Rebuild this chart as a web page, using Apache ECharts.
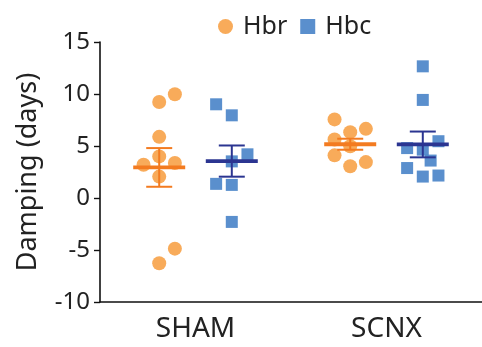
<!DOCTYPE html>
<html>
<head>
<meta charset="utf-8">
<script src="https://cdn.jsdelivr.net/npm/echarts@6/dist/echarts.min.js"></script>
<style>
  html, body { margin: 0; padding: 0; background: #fff; }
  #chart { width: 482px; height: 347px; }
</style>
</head>
<body>
<div id="chart"></div>
<script>
// groups on the x axis
const groups = ['SHAM', 'SCNX'];
const yTicks = [-10, -5, 0, 5, 10, 15];

// Hbr (orange circles): values per group, plus jitter column (-1 left, 0 centre, 1 right)
const hbrSham = [9.98, 9.23, 5.88, 4.0, 3.2, 3.36, 2.06, -4.87, -6.27];
const hbrShamCol = [1, 0, 0, 0, -1, 1, 0, 1, 0];
const hbrScnx = [7.56, 6.33, 6.65, 5.62, 4.97, 4.1, 3.45, 3.05];
const hbrScnxCol = [-1, 0, 1, -1, 0, -1, 1, 0];

// Hbc (blue squares)
const hbcSham = [9.01, 7.95, 4.2, 3.52, 1.36, 1.26, -2.3];
const hbcShamCol = [-1, 0, 1, 0, -1, 0, 0];
const hbcScnx = [12.66, 9.43, 5.46, 4.8, 4.65, 3.6, 2.88, 2.06, 2.16];
const hbcScnxCol = [0, 0, 1, -1, 0, 0.5, -1, 0, 1];

// mean and SEM, per group
const hbrMean = [2.94, 5.17];
const hbrSem = [1.86, 0.53];
const hbcMean = [3.55, 5.15];
const hbcSem = [1.5, 1.24];

const ORANGE = '#F7A44C';
const ORANGE_DARK = '#F37B20';
const BLUE = '#4C86C9';
const NAVY = '#2B3591';
const FONT = '"Noto Sans", "Open Sans", sans-serif';

const shift = 0.19;   // offset of each series from the group centre
const step = 0.082;   // jitter column width

function toPoints(vals, cols, gi, side) {
    return vals.map(function (v, i) {
        return [gi + side * shift + cols[i] * step, v];
    });
}

function summary(means, sems, side) {
    return means.map(function (m, gi) {
        return [gi + side * shift, m, sems[gi]];
    });
}

// mean bar + SEM whiskers
function meanRender(color) {
    return function (params, api) {
        const x = api.value(0), m = api.value(1), s = api.value(2);
        const c = api.coord([x, m]);
        const top = api.coord([x, m + s]);
        const bot = api.coord([x, m - s]);
        const style = { stroke: color, lineWidth: 2 };
        return {
            type: 'group',
            children: [
                { type: 'line', shape: { x1: c[0], y1: top[1], x2: c[0], y2: bot[1] }, style: style },
                { type: 'line', shape: { x1: c[0] - 13, y1: top[1], x2: c[0] + 13, y2: top[1] }, style: style },
                { type: 'line', shape: { x1: c[0] - 13, y1: bot[1], x2: c[0] + 13, y2: bot[1] }, style: style },
                { type: 'line', shape: { x1: c[0] - 26, y1: c[1], x2: c[0] + 26, y2: c[1] },
                  style: { stroke: color, lineWidth: 3.8 } }
            ]
        };
    };
}

const chart = echarts.init(document.getElementById('chart'));
const option = {
    animation: false,
    textStyle: { fontFamily: FONT },
    legend: {
        top: 9,
        left: 213,
        itemWidth: 15,
        itemHeight: 15,
        itemGap: 13,
        data: ['Hbr', 'Hbc'],
        textStyle: { fontSize: 25, color: '#222', fontFamily: FONT, padding: [0, 0, 0, 5] }
    },
    grid: { left: 100, top: 42, width: 383, bottom: 45 },
    xAxis: [{
        type: 'category',
        data: groups,
        boundaryGap: true,
        axisLine: { onZero: false, lineStyle: { color: '#111', width: 1.6 } },
        axisTick: { alignWithLabel: true, length: 6, lineStyle: { color: '#111', width: 1.4 } },
        axisLabel: { fontSize: 28, color: '#222', margin: 13, fontFamily: FONT }
    }, {
        type: 'value',
        min: -0.5,
        max: 1.5,
        show: false
    }],
    yAxis: {
        type: 'value',
        min: yTicks[0],
        max: yTicks[yTicks.length - 1],
        interval: 5,
        name: 'Damping (days)',
        nameLocation: 'middle',
        nameGap: 58,
        nameTextStyle: { fontSize: 27, color: '#222', fontFamily: FONT },
        splitLine: { show: false },
        axisLine: { show: true, onZero: false, lineStyle: { color: '#111', width: 1.6 } },
        axisTick: { show: true, length: 6, lineStyle: { color: '#111', width: 1.4 } },
        axisLabel: { fontSize: 24, color: '#222', margin: 10, fontFamily: FONT }
    },
    series: [{
        name: 'Hbr',
        type: 'scatter',
        xAxisIndex: 1,
        symbol: 'circle',
        symbolSize: 14,
        itemStyle: { color: ORANGE, opacity: 0.92 },
        data: toPoints(hbrSham, hbrShamCol, 0, -1).concat(toPoints(hbrScnx, hbrScnxCol, 1, -1))
    }, {
        name: 'Hbc',
        type: 'scatter',
        xAxisIndex: 1,
        symbol: 'rect',
        symbolSize: 12,
        itemStyle: { color: BLUE, opacity: 0.92 },
        data: toPoints(hbcSham, hbcShamCol, 0, 1).concat(toPoints(hbcScnx, hbcScnxCol, 1, 1))
    }, {
        type: 'custom',
        xAxisIndex: 1,
        z: 5,
        renderItem: meanRender(ORANGE_DARK),
        data: summary(hbrMean, hbrSem, -1)
    }, {
        type: 'custom',
        xAxisIndex: 1,
        z: 5,
        renderItem: meanRender(NAVY),
        data: summary(hbcMean, hbcSem, 1)
    }]
};
chart.setOption(option);
</script>
</body>
</html>
